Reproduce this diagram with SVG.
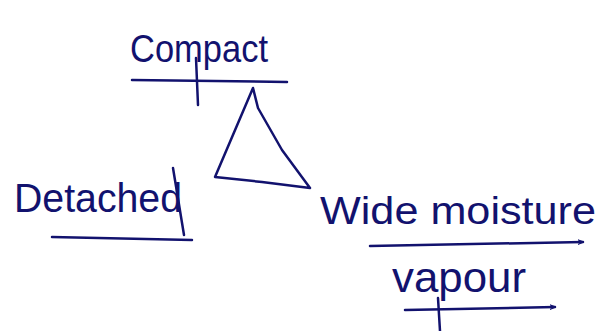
<svg xmlns="http://www.w3.org/2000/svg" width="599" height="331" viewBox="0 0 599 331">
<style>
.t{font-family:"Liberation Sans",Arial,sans-serif;fill:#12126e;}
.s{fill:none;stroke:#12126e;stroke-width:2.5;stroke-linecap:round;stroke-linejoin:round;}
</style>
<defs>
<marker id="ah" viewBox="0 0 10 10" refX="9" refY="5" markerWidth="6" markerHeight="6" orient="auto" markerUnits="userSpaceOnUse">
<path d="M0,1 L10,5 L0,9" fill="none" stroke="#12126e" stroke-width="2"/>
</marker>
</defs>
<rect width="599" height="331" fill="#ffffff"/>
<g id="compact">
<text class="t" x="130" y="62" font-size="38" textLength="138" lengthAdjust="spacingAndGlyphs">Compact</text>
</g>
<g id="detached">
<text class="t" x="14" y="212" font-size="40" textLength="168" lengthAdjust="spacingAndGlyphs">Detached</text>
</g>
<g id="wide">
<text class="t" x="320" y="224" font-size="38" textLength="276" lengthAdjust="spacingAndGlyphs">Wide moisture</text>
</g>
<g id="vapour">
<text class="t" x="392" y="292" font-size="42" textLength="134" lengthAdjust="spacingAndGlyphs">vapour</text>
</g>
<g id="triangle">
<path class="s" d="M253,88 L258,108 L282,150 L310,188 L262,182 L215,177 Z"/>
</g>
<g id="connectors">
<path class="s" d="M132,80 L287,82"/>
<path class="s" d="M196,58 L198,105"/>
<path class="s" d="M52,237 L192,240"/>
<path class="s" d="M173,168 L184,235"/>
<path class="s" d="M370,246 L583,242" marker-end="url(#ah)"/>
<path class="s" d="M405,310 L555,307" marker-end="url(#ah)"/>
<path class="s" d="M438,298 L440,331"/>
</g>
</svg>
